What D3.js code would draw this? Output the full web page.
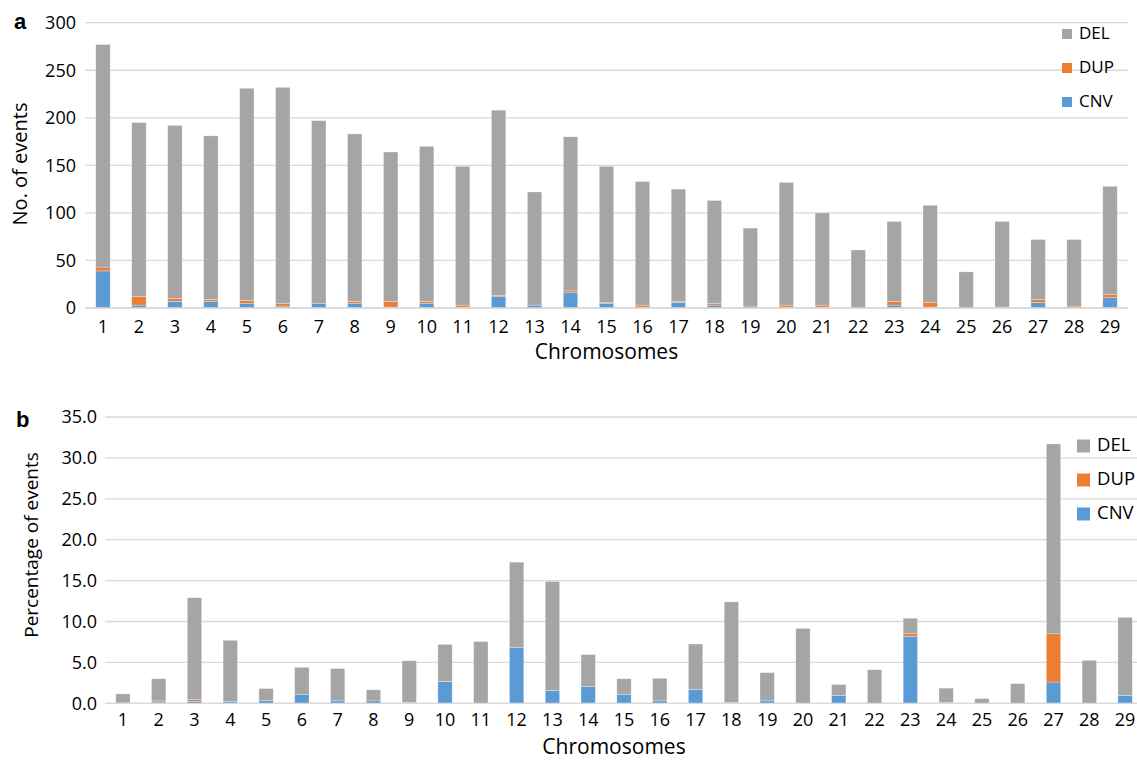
<!DOCTYPE html>
<html>
<head>
<meta charset="utf-8">
<script src="https://cdn.jsdelivr.net/npm/d3@7"></script>
<style>
  html, body { margin: 0; padding: 0; background: #fff; }
  svg { display: block; font-family: "Open Sans", "Noto Sans", sans-serif; }
</style>
</head>
<body>
<svg id="chart" width="1137" height="762"></svg>
<script>
const chromosomes = ["1","2","3","4","5","6","7","8","9","10","11","12","13","14","15","16","17","18","19","20","21","22","23","24","25","26","27","28","29"];
const seriesNames = ["DEL","DUP","CNV"];
const seriesColors = ["#A5A5A5","#ED7D31","#5B9BD5"];

// Panel a: number of events
const cnvA = [39,3,7,7,5,2,5,5,1,5,1,12,3,16,5,1,6,3,2,1,1,0,3,1,0,0,6,0,11];
const dupA = [4,9,3,2,3,3,0,2,6,2,2,1,0,2,1,2,1,2,0,2,2,0,4,5,0,1,3,2,3];
const delA = [234,183,182,172,223,227,192,176,157,163,146,195,119,162,143,130,118,108,82,129,97,61,84,102,38,90,63,70,114];
const ticksA = [0,50,100,150,200,250,300];

// Panel b: percentage of events
const cnvB = [0,0.15,0.25,0.2,0.35,1.05,0.3,0.3,0,2.65,0,6.85,1.55,2.05,1.05,0.3,1.7,0,0.3,0,0.95,0,8.2,0,0,0,2.6,0,0.95];
const dupB = [0.05,0.15,0.2,0,0,0,0,0,0.1,0.05,0,0,0,0,0,0,0,0.1,0,0,0,0,0.3,0.1,0,0,5.9,0,0];
const delB = [1.1,2.7,12.45,7.5,1.45,3.35,3.95,1.35,5.1,4.5,7.55,10.4,13.35,3.9,1.95,2.75,5.55,12.3,3.45,9.15,1.35,4.1,1.9,1.75,0.57,2.4,23.2,5.25,9.55];
const ticksB = [0,5,10,15,20,25,30,35];

const svg = d3.select("#chart");

function panel(cfg) {
  const rows = chromosomes.map((c, i) => ({ chr: c, CNV: cfg.cnv[i], DUP: cfg.dup[i], DEL: cfg.del[i] }));
  const x = d3.scaleBand().domain(chromosomes).range([cfg.left, cfg.right]).paddingInner(0.6).paddingOuter(0.3);
  const y = d3.scaleLinear().domain([0, cfg.max]).range([cfg.bottom, cfg.top]);
  const g = svg.append("g");

  g.append("g").selectAll("line").data(cfg.ticks).join("line")
    .attr("x1", cfg.left).attr("x2", cfg.right)
    .attr("y1", d => y(d)).attr("y2", d => y(d))
    .attr("stroke", "#d9d9d9").attr("stroke-width", 1.3);

  const yAxis = d3.axisLeft(y).tickValues(cfg.ticks).tickSize(0).tickPadding(0).tickFormat(cfg.fmt);
  const ya = g.append("g").attr("transform", `translate(${cfg.ylabX},0)`).call(yAxis);
  ya.select(".domain").remove();
  ya.selectAll("text").attr("font-size", cfg.fs).attr("fill", "#000").attr("font-family", "Open Sans, sans-serif");

  const stack = d3.stack().keys(["CNV","DUP","DEL"]);
  const layers = stack(rows);
  const colorOf = { DEL: seriesColors[0], DUP: seriesColors[1], CNV: seriesColors[2] };
  g.append("g").selectAll("g").data(layers).join("g")
    .attr("fill", d => colorOf[d.key])
    .selectAll("rect").data(d => d).join("rect")
    .attr("x", d => x(d.data.chr))
    .attr("width", x.bandwidth())
    .attr("y", d => y(d[1]))
    .attr("height", d => Math.max(0, y(d[0]) - y(d[1])))
    .attr("stroke", "#ffffff").attr("stroke-opacity", 0.45).attr("stroke-width", 0.6);

  g.append("line").attr("x1", cfg.left).attr("x2", cfg.right)
    .attr("y1", y(0)).attr("y2", y(0)).attr("stroke", "#d9d9d9").attr("stroke-width", 1.3);

  const xAxis = d3.axisBottom(x).tickSize(0).tickPadding(0);
  const xa = g.append("g").attr("transform", `translate(0,${cfg.xlabY})`).call(xAxis);
  xa.select(".domain").remove();
  xa.selectAll("text").attr("font-size", cfg.fs).attr("fill", "#000").attr("dy", "0.35em").attr("y", 0).attr("font-family", "Open Sans, sans-serif");

  g.append("text").attr("x", (cfg.left + cfg.right) / 2 + cfg.xtDx).attr("y", cfg.xtitleY)
    .attr("text-anchor", "middle").attr("dominant-baseline", "middle")
    .attr("font-size", cfg.fsT).text("Chromosomes");
  g.append("text").attr("transform", `translate(${cfg.ytitleX},${cfg.ytitleY}) rotate(-90)`)
    .attr("text-anchor", "middle").attr("dominant-baseline", "middle")
    .attr("font-size", cfg.fsY).text(cfg.ytitle);

  g.append("text").attr("x", cfg.letterX).attr("y", cfg.letterY)
    .attr("font-size", 22).attr("font-weight", "bold").attr("font-family", "Liberation Sans, Arial, sans-serif").text(cfg.letter);

  const lg = g.append("g");
  seriesNames.forEach((name, i) => {
    const cy = cfg.legY + i * cfg.legStep;
    lg.append("rect").attr("x", cfg.legX).attr("y", cy - cfg.legSq / 2)
      .attr("width", cfg.legSq).attr("height", cfg.legSq).attr("fill", seriesColors[i]);
    lg.append("text").attr("x", cfg.legX + cfg.legSq + 7).attr("y", cy)
      .attr("dominant-baseline", "middle").attr("font-size", cfg.fsL).text(name);
  });
}

panel({
  cnv: cnvA, dup: dupA, del: delA, ticks: ticksA, max: 300,
  left: 85, right: 1128, top: 22.7, bottom: 308,
  fmt: d3.format("d"), ylabX: 76, xlabY: 327, xtitleY: 353, xtDx: 0,
  ytitle: "No. of events", ytitleX: 22, ytitleY: 164,
  letter: "a", letterX: 14, letterY: 29,
  legX: 1062, legY: 34, legStep: 34, legSq: 10,
  fs: 18, fsT: 21, fsY: 20, fsL: 17
});

panel({
  cnv: cnvB, dup: dupB, del: delB, ticks: ticksB, max: 35,
  left: 105, right: 1143, top: 417, bottom: 703.3,
  fmt: d3.format(".1f"), ylabX: 97, xlabY: 720, xtitleY: 748, xtDx: -10,
  ytitle: "Percentage of events", ytitleX: 33, ytitleY: 545,
  letter: "b", letterX: 16, letterY: 427,
  legX: 1077, legY: 446, legStep: 34, legSq: 13,
  fs: 18, fsT: 21, fsY: 19, fsL: 18.5
});
</script>
</body>
</html>
